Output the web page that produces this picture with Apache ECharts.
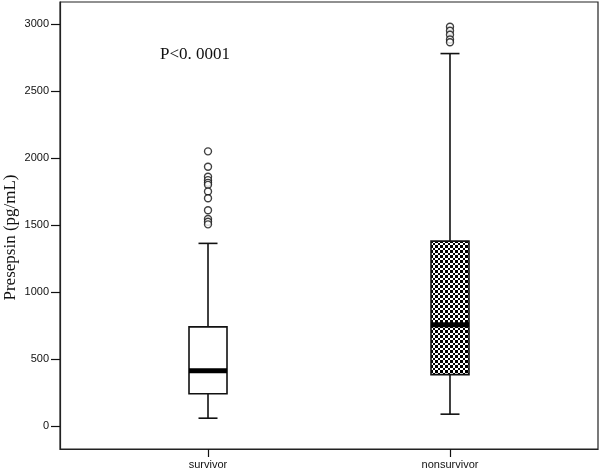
<!DOCTYPE html>
<html>
<head>
<meta charset="utf-8">
<style>
  html, body { margin: 0; padding: 0; background: #fff; }
  #chart { width: 600px; height: 473px; }
</style>
<script src="https://cdn.jsdelivr.net/npm/echarts@6/dist/echarts.min.js"></script>
</head>
<body>
<div id="chart"></div>
<script>
// 数据：从图中读取
const categories = ['survivor', 'nonsurvivor']
// [min, Q1, median, Q3, max]
const boxStats = [
  [58, 240, 413, 740, 1363],
  [88, 383, 755, 1380, 2780]
]
const survivorOutliers = [2050, 1935, 1860, 1835, 1815, 1800, 1750, 1700, 1610, 1545, 1525, 1505]
const nonsurvivorOutliers = [2980, 2950, 2920, 2885, 2865]
const yTicks = [0, 500, 1000, 1500, 2000, 2500, 3000]

/** 棋盘格填充 */
function makeChecker() {
  const c = document.createElement('canvas')
  c.width = 5
  c.height = 5
  const ctx = c.getContext('2d')
  ctx.fillStyle = '#fff'
  ctx.fillRect(0, 0, 5, 5)
  ctx.fillStyle = '#000'
  ctx.fillRect(0, 0, 3, 3)
  ctx.fillRect(3, 3, 2, 2)
  return c
}
const checker = makeChecker()

const ink = '#111'
const chart = echarts.init(document.getElementById('chart'), null, { renderer: 'canvas' })

function renderBox(params, api) {
  const x = api.value(0)
  const pMin = api.coord([x, api.value(1)])
  const pQ1 = api.coord([x, api.value(2)])
  const pMed = api.coord([x, api.value(3)])
  const pQ3 = api.coord([x, api.value(4)])
  const pMax = api.coord([x, api.value(5)])
  const cx = pMin[0]
  const half = 19
  const cap = 9.5
  const line = { stroke: ink, lineWidth: 1.6 }
  const fill = params.dataIndex === 1 ? { image: checker, repeat: 'repeat' } : '#fff'
  return {
    type: 'group',
    children: [
      { type: 'line', shape: { x1: cx, y1: pQ3[1], x2: cx, y2: pMax[1] }, style: line },
      { type: 'line', shape: { x1: cx, y1: pQ1[1], x2: cx, y2: pMin[1] }, style: line },
      { type: 'line', shape: { x1: cx - cap, y1: pMax[1], x2: cx + cap, y2: pMax[1] }, style: line },
      { type: 'line', shape: { x1: cx - cap, y1: pMin[1], x2: cx + cap, y2: pMin[1] }, style: line },
      {
        type: 'rect',
        shape: { x: cx - half, y: pQ3[1], width: half * 2, height: pQ1[1] - pQ3[1] },
        style: { fill: fill, stroke: ink, lineWidth: 1.6 }
      },
      {
        type: 'rect',
        shape: { x: cx - half, y: pMed[1] - 2.5, width: half * 2, height: 5 },
        style: { fill: '#000' }
      }
    ]
  }
}

const option = {
  animation: false,
  backgroundColor: '#fff',
  title: {
    text: 'P<0. 0001',
    left: 155,
    top: 41,
    textStyle: { fontFamily: 'Liberation Serif', fontSize: 17, fontWeight: 'normal', color: ink }
  },
  grid: {
    left: 60,
    right: 2,
    top: 2,
    bottom: 24,
    outerBoundsMode: 'none',
    containLabel: false,
    show: true,
    borderColor: '#222',
    borderWidth: 1.2
  },
  xAxis: {
    type: 'value',
    min: -0.6116,
    max: 1.6116,
    splitLine: { show: false },
    axisLine: { show: true, onZero: false, lineStyle: { color: '#222', width: 1.2 } },
    axisTick: { show: true, customValues: [0, 1], length: 8, lineStyle: { color: ink, width: 1.2 } },
    axisLabel: {
      customValues: [0, 1],
      formatter: (v) => categories[Math.round(v)] || '',
      margin: 10,
      fontFamily: 'Liberation Sans',
      fontSize: 11,
      color: ink
    }
  },
  yAxis: {
    type: 'value',
    min: -172,
    max: 3165,
    name: 'Presepsin (pg/mL)',
    nameLocation: 'middle',
    nameGap: 41,
    nameMoveOverlap: false,
    nameTextStyle: { fontFamily: 'Liberation Serif', fontSize: 17, color: ink, padding: [0, 24, 0, 0] },
    splitLine: { show: false },
    axisLine: { show: true, onZero: false, lineStyle: { color: '#222', width: 1.2 } },
    axisTick: { show: true, customValues: yTicks, length: 9, lineStyle: { color: ink, width: 1.2 } },
    axisLabel: {
      customValues: yTicks,
      formatter: (v) => String(v),
      margin: 11,
      fontFamily: 'Liberation Sans',
      fontSize: 11,
      color: ink
    }
  },
  series: [
    {
      type: 'custom',
      renderItem: renderBox,
      data: boxStats.map((s, i) => [i].concat(s)),
      z: 3
    },
    {
      type: 'scatter',
      symbol: 'circle',
      symbolSize: 7,
      itemStyle: { color: '#fff', borderColor: ink, borderWidth: 1.4 },
      data: survivorOutliers.map((v) => [0, v])
        .concat(nonsurvivorOutliers.map((v) => [1, v])),
      z: 4
    }
  ]
}

chart.setOption(option)
</script>
</body>
</html>
